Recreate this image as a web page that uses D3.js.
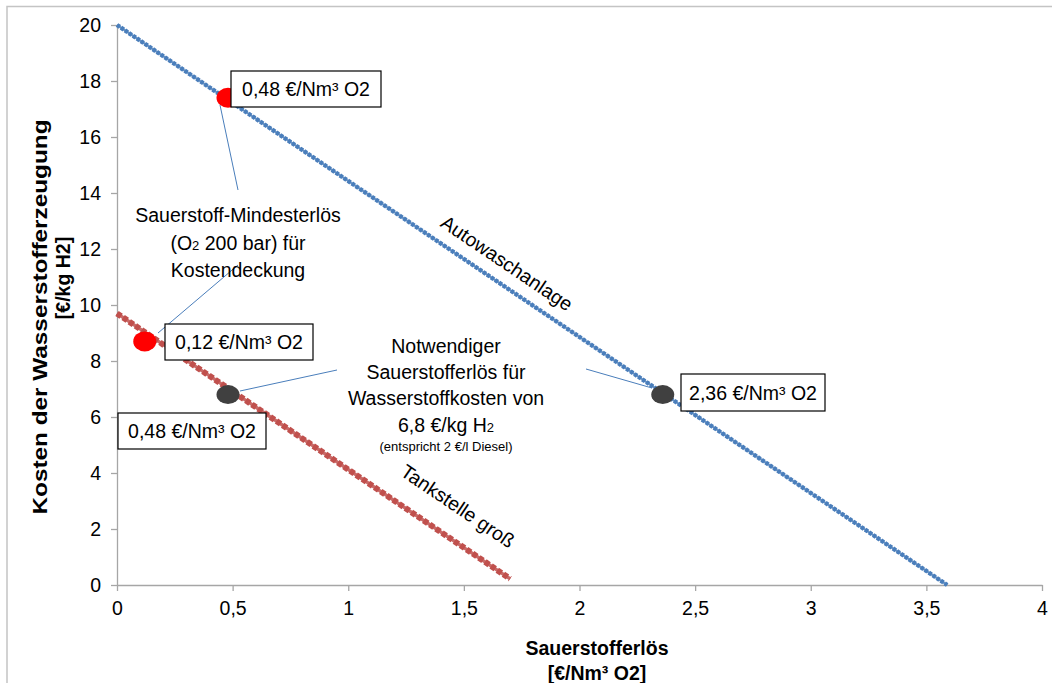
<!DOCTYPE html>
<html>
<head>
<meta charset="utf-8">
<script src="https://cdn.jsdelivr.net/npm/d3@7"></script>
<style>
  html, body { margin: 0; padding: 0; background: #fff; }
  svg { display: block; font-family: "Liberation Sans", Arial, sans-serif; }
</style>
</head>
<body>
<svg id="chart" width="1052" height="683"></svg>
<script>
// Series: cost of hydrogen production vs. oxygen revenue (end points of each line)
const autowaschanlage = [{ x: 0, y: 20 }, { x: 3.59, y: 0 }];
const tankstelleGross = [{ x: 0, y: 9.7 }, { x: 1.7, y: 0.22 }];

// Highlighted points
const minRevenuePoints = [{ x: 0.48, y: 17.4 }, { x: 0.12, y: 8.7 }];
const targetCostPoints = [{ x: 0.48, y: 6.8 }, { x: 2.36, y: 6.8 }];

// Axis ticks
const xTicks = [0, 0.5, 1, 1.5, 2, 2.5, 3, 3.5, 4];
const yTicks = [0, 2, 4, 6, 8, 10, 12, 14, 16, 18, 20];

const svg = d3.select("#chart");
const W = 1052, H = 683;

const x = d3.scaleLinear().domain([0, 4]).range([117, 1042]);
const y = d3.scaleLinear().domain([0, 20]).range([585, 25]);

const fmt = d => String(d).replace(".", ",");
const axisColor = "#a6a6a6";

// Outer chart frame
svg.append("rect")
  .attr("x", 7).attr("y", 6.5)
  .attr("width", W).attr("height", H)
  .attr("fill", "none").attr("stroke", "#c4c4c4").attr("stroke-width", 1.5);

// Axes
const xAxis = svg.append("g").attr("transform", `translate(0,${y(0)})`)
  .call(d3.axisBottom(x).tickValues(xTicks).tickFormat(fmt).tickSize(6).tickPadding(10).tickSizeOuter(0));
const yAxis = svg.append("g").attr("transform", `translate(${x(0)},0)`)
  .call(d3.axisLeft(y).tickValues(yTicks).tickFormat(fmt).tickSize(6).tickPadding(10).tickSizeOuter(0));
[xAxis, yAxis].forEach(g => {
  g.selectAll("path, line").attr("stroke", axisColor).attr("stroke-width", 1.3);
  g.selectAll("text").attr("fill", "#000").style("font-size", "19.5px")
    .style("font-family", "'Liberation Sans', Arial, sans-serif");
});

// Axis titles
svg.append("text").attr("x", 597).attr("y", 655).attr("text-anchor", "middle")
  .style("font-size", "19.5px").style("font-weight", "bold").text("Sauerstofferlös");
svg.append("text").attr("x", 597).attr("y", 680).attr("text-anchor", "middle")
  .style("font-size", "19.5px").style("font-weight", "bold").text("[€/Nm³ O2]");
svg.append("text").attr("transform", "translate(47,317) rotate(-90)").attr("text-anchor", "middle")
  .attr("textLength", 395).attr("lengthAdjust", "spacingAndGlyphs")
  .style("font-size", "20px").style("font-weight", "bold").text("Kosten der Wasserstofferzeugung");
svg.append("text").attr("transform", "translate(70,278) rotate(-90)").attr("text-anchor", "middle")
  .style("font-size", "19.5px").style("font-weight", "bold").text("[€/kg H2]");

// Lines drawn as a solid core plus a dense square-marker dash
const line = d3.line().x(d => x(d.x)).y(d => y(d.y));
function markerLine(data, color, core, width, dash) {
  svg.append("path").datum(data).attr("d", line)
    .attr("fill", "none").attr("stroke", color).attr("stroke-width", core).attr("stroke-opacity", 0.85);
  svg.append("path").datum(data).attr("d", line)
    .attr("fill", "none").attr("stroke", color).attr("stroke-width", width)
    .attr("stroke-dasharray", dash);
}
markerLine(autowaschanlage, "#4a7ebb", 2.2, 4.4, "3.4 1.4");
markerLine(tankstelleGross, "#c0504d", 3.4, 6, "5 2.4");

// Leader lines
const leaderColor = "#4a7ebb";
const leaders = [
  [[220, 105], [238, 190]],
  [[238, 265], [158, 333]],
  [[240, 391], [337, 370]],
  [[586, 369], [652, 388]]
];
svg.append("g").selectAll("line").data(leaders).join("line")
  .attr("x1", d => d[0][0]).attr("y1", d => d[0][1])
  .attr("x2", d => d[1][0]).attr("y2", d => d[1][1])
  .attr("stroke", leaderColor).attr("stroke-width", 1);

// Points
svg.append("g").selectAll("ellipse").data(minRevenuePoints).join("ellipse")
  .attr("cx", d => x(d.x)).attr("cy", d => y(d.y)).attr("rx", 11.5).attr("ry", 10)
  .attr("fill", "#ff0000");
svg.append("g").selectAll("ellipse").data(targetCostPoints).join("ellipse")
  .attr("cx", d => x(d.x)).attr("cy", d => y(d.y)).attr("rx", 11.5).attr("ry", 9.5)
  .attr("fill", "#404040");

// Value label boxes
const boxes = [
  { text: "0,48 €/Nm³ O2", x: 231, y: 71, w: 150, h: 36 },
  { text: "0,12 €/Nm³ O2", x: 165, y: 324, w: 148, h: 36 },
  { text: "0,48 €/Nm³ O2", x: 118, y: 413, w: 148, h: 36 },
  { text: "2,36 €/Nm³ O2", x: 681, y: 374, w: 144, h: 37 }
];
const bg = svg.append("g").selectAll("g").data(boxes).join("g");
bg.append("rect").attr("x", d => d.x).attr("y", d => d.y).attr("width", d => d.w).attr("height", d => d.h)
  .attr("fill", "#fff").attr("stroke", "#000").attr("stroke-width", 1.2);
bg.append("text").attr("x", d => d.x + d.w / 2).attr("y", d => d.y + d.h / 2 + 7)
  .attr("text-anchor", "middle").style("font-size", "19.5px").text(d => d.text);

// Annotation texts
function block(cx, lines) {
  const t = svg.append("text").attr("text-anchor", "middle");
  lines.forEach(l => {
    const ts = t.append("tspan").attr("x", cx).attr("y", l.y).style("font-size", (l.size || 19.5) + "px");
    l.parts.forEach(p => {
      const s = ts.append("tspan").text(p.t);
      if (p.sub) s.style("font-size", "13px");
    });
  });
}
block(238, [
  { y: 222, parts: [{ t: "Sauerstoff-Mindesterlös" }] },
  { y: 250, parts: [{ t: "(O" }, { t: "2", sub: true }, { t: " 200 bar) für" }] },
  { y: 277, parts: [{ t: "Kostendeckung" }] }
]);
block(446, [
  { y: 353, parts: [{ t: "Notwendiger" }] },
  { y: 379, parts: [{ t: "Sauerstofferlös für" }] },
  { y: 405, parts: [{ t: "Wasserstoffkosten von" }] },
  { y: 432, parts: [{ t: "6,8 €/kg H" }, { t: "2", sub: true }] },
  { y: 451, size: 13, parts: [{ t: "(entspricht 2 €/l Diesel)" }] }
]);

// Series labels along the lines
const angle = Math.atan2(y(0) - y(20), x(3.59) - x(0)) * 180 / Math.PI;
svg.append("text").attr("transform", `translate(507,263) rotate(${angle})`)
  .attr("text-anchor", "middle").attr("dy", 7).style("font-size", "19.5px").text("Autowaschanlage");
svg.append("text").attr("transform", `translate(458,506) rotate(${angle})`)
  .attr("text-anchor", "middle").attr("dy", 7).style("font-size", "19.5px").text("Tankstelle groß");
</script>
</body>
</html>
